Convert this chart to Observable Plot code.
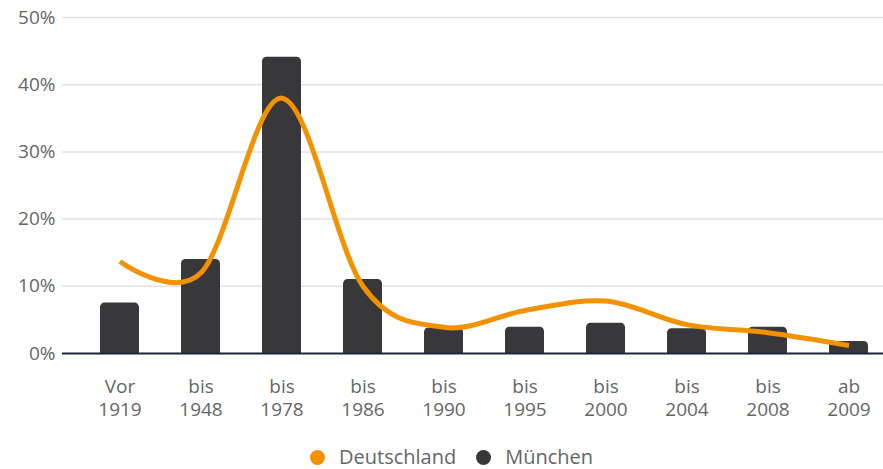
<!DOCTYPE html>
<html>
<head>
<meta charset="utf-8">
<script src="https://cdn.jsdelivr.net/npm/d3@7"></script>
<script src="https://cdn.jsdelivr.net/npm/@observablehq/plot@0.6"></script>
<style>
  body { margin: 0; background: #fff; font-family: "Open Sans", sans-serif; overflow: hidden; }
  #wrap { position: relative; width: 883px; height: 469px; }
  #legend { position: absolute; left: 310px; top: 446px; height: 22px; display: flex; align-items: center; font-size: 20px; line-height: 22px; color: #666; font-family: "Open Sans", sans-serif; white-space: nowrap; }
  .item { display: flex; align-items: center; margin-right: 20px; }
  .dot { width: 15px; height: 15px; border-radius: 50%; margin-right: 14px; flex: none; }
</style>
</head>
<body>
<div id="wrap">
  <div id="chart"></div>
  <div id="legend"></div>
</div>
<script>
const categories = ["Vor 1919", "bis 1948", "bis 1978", "bis 1986", "bis 1990", "bis 1995", "bis 2000", "bis 2004", "bis 2008", "ab 2009"];
const muenchen = [7.5, 14.0, 44.1, 11.0, 3.8, 3.9, 4.5, 3.7, 3.9, 1.8];
const deutschland = [13.7, 12.0, 38.0, 10.0, 3.9, 6.4, 7.8, 4.3, 3.1, 1.2];
const yTicks = [0, 10, 20, 30, 40, 50];
const seriesNames = ["Deutschland", "München"];
const seriesColors = ["#f39200", "#38383a"];

const data = categories.map((c, i) => ({cat: c, muc: muenchen[i], de: deutschland[i]}));

const chart = Plot.plot({
  width: 883,
  height: 440,
  marginLeft: 62,
  marginRight: 0,
  marginTop: 17,
  marginBottom: 87,
  style: {fontFamily: "Open Sans, sans-serif", fontSize: "19px", color: "#666", background: "#fff"},
  x: {type: "band", domain: categories, range: [78.4, 890.4], paddingInner: 0.52, paddingOuter: 0.26, label: null},
  y: {domain: [0, 50], label: null},
  marks: [
    Plot.ruleY(yTicks.filter(d => d > 0), {stroke: "#e2e2e2", strokeWidth: 1.5}),
    Plot.barY(data, {x: "cat", y: "muc", fill: seriesColors[1], rx: 4.5, insetBottom: -8, clip: true}),
    Plot.ruleY([0], {stroke: "#1c2639", strokeWidth: 2}),
    Plot.line(data, {x: "cat", y: "de", stroke: seriesColors[0], strokeWidth: 5, curve: "cardinal", strokeLinecap: "butt"}),
    Plot.axisY({ticks: yTicks, tickFormat: d => d + "%", tickSize: 0, tickPadding: 7, fill: "#666", fontSize: 19}),
    Plot.axisX({tickSize: 0, tickPadding: 26, tickFormat: d => d.split(" ")[0], fill: "#666", fontSize: 19}),
    Plot.axisX({tickSize: 0, tickPadding: 49, tickFormat: d => d.split(" ")[1], fill: "#666", fontSize: 19})
  ]
});
document.getElementById("chart").appendChild(chart);

const legend = document.getElementById("legend");
seriesNames.forEach((n, i) => {
  const it = document.createElement("div");
  it.className = "item";
  const dot = document.createElement("span");
  dot.className = "dot";
  dot.style.background = seriesColors[i];
  const t = document.createElement("span");
  t.textContent = n;
  it.appendChild(dot); it.appendChild(t);
  legend.appendChild(it);
});
</script>
</body>
</html>
